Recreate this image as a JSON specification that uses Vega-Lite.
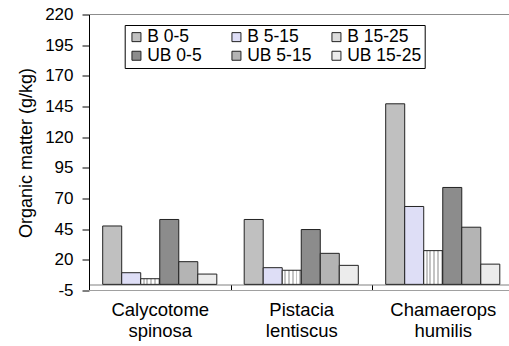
{
  "$schema": "https://vega.github.io/schema/vega-lite/v6.json",
  "autosize": {"type": "none"},
  "width": 420,
  "height": 276,
  "padding": {"left": 89, "top": 14.5, "right": 0, "bottom": 55.5},
  "background": "white",
  "config": {
    "font": "Liberation Sans",
    "view": {"stroke": null},
    "axis": {"labelColor": "black", "titleColor": "black", "grid": false},
    "legend": {"labelFont": "Liberation Sans"}
  },
  "data": {
    "values": [
      {"species": "Calycotome spinosa", "series": "B 0-5", "value": 47.6},
      {"species": "Calycotome spinosa", "series": "B 5-15", "value": 9.5},
      {"species": "Calycotome spinosa", "series": "B 15-25", "value": 4.6},
      {"species": "Calycotome spinosa", "series": "UB 0-5", "value": 52.9},
      {"species": "Calycotome spinosa", "series": "UB 5-15", "value": 18.5},
      {"species": "Calycotome spinosa", "series": "UB 15-25", "value": 8.4},
      {"species": "Pistacia lentiscus", "series": "B 0-5", "value": 52.9},
      {"species": "Pistacia lentiscus", "series": "B 5-15", "value": 13.6},
      {"species": "Pistacia lentiscus", "series": "B 15-25", "value": 11.5},
      {"species": "Pistacia lentiscus", "series": "UB 0-5", "value": 44.7},
      {"species": "Pistacia lentiscus", "series": "UB 5-15", "value": 25.3},
      {"species": "Pistacia lentiscus", "series": "UB 15-25", "value": 15.5},
      {"species": "Chamaerops humilis", "series": "B 0-5", "value": 147.2},
      {"species": "Chamaerops humilis", "series": "B 5-15", "value": 63.5},
      {"species": "Chamaerops humilis", "series": "B 15-25", "value": 27.5},
      {"species": "Chamaerops humilis", "series": "UB 0-5", "value": 79.0},
      {"species": "Chamaerops humilis", "series": "UB 5-15", "value": 46.6},
      {"species": "Chamaerops humilis", "series": "UB 15-25", "value": 16.5}
    ]
  },
  "layer": [
    {
      "mark": {"type": "bar", "stroke": "#222222", "strokeWidth": 1, "clip": false},
      "encoding": {
        "x": {
          "field": "species", "type": "nominal", "sort": ["Calycotome spinosa", "Pistacia lentiscus", "Chamaerops humilis"],
          "scale": {"range": [0, 424.5], "paddingInner": 0, "paddingOuter": 0},
          "axis": {
            "title": null, "orient": "bottom", "offset": -6, "labelAngle": 0,
            "domainColor": "#808080", "domainWidth": 1, "tickColor": "black", "tickSize": 6, "tickBand": "extent",
            "labelFontSize": 18.5, "labelPadding": 10, "labelLineHeight": 21,
            "labelExpr": "split(datum.label, ' ')"
          }
        },
        "xOffset": {
          "field": "series", "type": "nominal",
          "sort": ["B 0-5", "B 5-15", "B 15-25", "UB 0-5", "UB 5-15", "UB 15-25"],
          "scale": {"paddingInner": 0, "paddingOuter": 0.72}
        },
        "y": {"field": "value", "type": "quantitative", "scale": {"domain": [-5, 220], "nice": false, "zero": false},
          "axis": {
            "title": "Organic matter (g/kg)", "titleFontSize": 18, "titleFontWeight": "normal", "titlePadding": 9,
            "values": [-5, 20, 45, 70, 95, 120, 145, 170, 195, 220], "tickCount": 20, "labelOverlap": false,
            "labelExpr": "'' + datum.value",
            "domainColor": "black", "tickColor": "black", "tickSize": 7, "labelPadding": 9, "labelFontSize": 17
          }},
        "y2": {"datum": 0},
        "fill": {
          "condition": {
            "test": "datum.series === 'B 15-25'",
            "value": {"gradient": "linear", "x1": 0, "y1": 0, "x2": 1, "y2": 0, "stops": [
              {"offset": 0, "color": "#ffffff"}, {"offset": 0.1, "color": "#ffffff"}, {"offset": 0.1, "color": "#c4c4c4"}, {"offset": 0.2, "color": "#c4c4c4"},
              {"offset": 0.2, "color": "#ffffff"}, {"offset": 0.3, "color": "#ffffff"}, {"offset": 0.3, "color": "#c4c4c4"}, {"offset": 0.4, "color": "#c4c4c4"},
              {"offset": 0.4, "color": "#ffffff"}, {"offset": 0.5, "color": "#ffffff"}, {"offset": 0.5, "color": "#c4c4c4"}, {"offset": 0.6, "color": "#c4c4c4"},
              {"offset": 0.6, "color": "#ffffff"}, {"offset": 0.7, "color": "#ffffff"}, {"offset": 0.7, "color": "#c4c4c4"}, {"offset": 0.8, "color": "#c4c4c4"},
              {"offset": 0.8, "color": "#ffffff"}, {"offset": 0.9, "color": "#ffffff"}, {"offset": 0.9, "color": "#c4c4c4"}, {"offset": 1, "color": "#c4c4c4"}
            ]}
          },
          "field": "series", "type": "nominal",
          "sort": ["B 0-5", "B 5-15", "B 15-25", "UB 0-5", "UB 5-15", "UB 15-25"],
          "scale": {"domain": ["B 0-5", "B 5-15", "B 15-25", "UB 0-5", "UB 5-15", "UB 15-25"], "range": ["#c0c0c0", "#dedef6", "#dcdcdc", "#8c8c8c", "#b4b4b4", "#ececec"]},
          "legend": {
            "title": null, "orient": "none", "legendX": 35.7, "legendY": 10.5, "columns": 3, "direction": "horizontal", "gridAlign": "all",
            "symbolType": "square", "symbolSize": 81, "symbolStrokeColor": "#222222", "symbolStrokeWidth": 1,
            "labelFontSize": 17.5, "labelOffset": 2, "columnPadding": 6, "rowPadding": 0,
            "padding": 3, "strokeColor": "black", "fillColor": "white", "labelColor": "black"
          }
        }
      }
    },
    {
      "mark": {"type": "rule", "color": "#8c8c8c", "strokeWidth": 1},
      "encoding": {"y": {"datum": 220, "type": "quantitative"}}
    },
    {
      "mark": {"type": "rule", "color": "#a0a0a0", "strokeWidth": 1},
      "encoding": {"y": {"datum": -5, "type": "quantitative"}}
    }
  ]
}
